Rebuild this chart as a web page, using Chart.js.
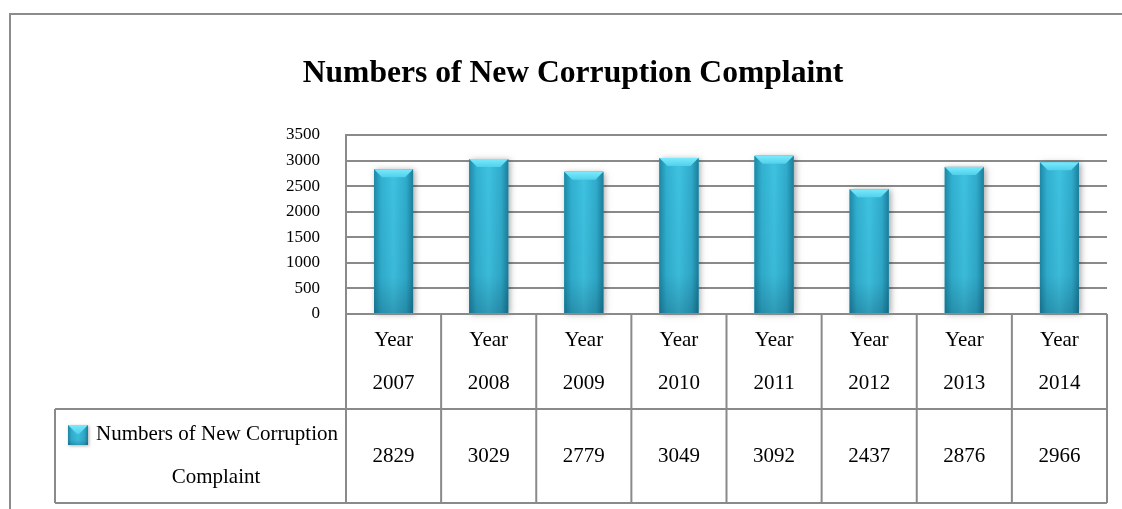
<!DOCTYPE html>
<html>
<head>
<meta charset="utf-8">
<script src="https://cdn.jsdelivr.net/npm/chart.js@4"></script>
<style>
  html, body { margin: 0; padding: 0; background: #fff; }
  #wrap { width: 1122px; height: 509px; }
</style>
</head>
<body>
<div id="wrap"><canvas id="chart" width="1122" height="509"></canvas></div>
<script>
// Data
const titleText = 'Numbers of New Corruption Complaint';
const categoryPrefix = 'Year';
const years = ['2007', '2008', '2009', '2010', '2011', '2012', '2013', '2014'];
const complaints = [2829, 3029, 2779, 3049, 3092, 2437, 2876, 2966];
const legendLines = ['Numbers of New Corruption', 'Complaint'];
const yMin = 0;
const yMax = 3500;
const yStep = 500;

const SERIF = '"Liberation Serif", "Times New Roman", serif';
const LINE = '#8a8a8a';

/**
 * Paint a bevelled, shaded bar (Excel "cylinder-ish" look).
 */
const paintBar = (ctx, left, top, right, bottom, bevel) => {
    const w = right - left;
    const body = ctx.createLinearGradient(left, 0, right, 0);
    body.addColorStop(0, '#1d88a6');
    body.addColorStop(0.18, '#31b0d0');
    body.addColorStop(0.5, '#3ec2e0');
    body.addColorStop(0.82, '#30abcb');
    body.addColorStop(1, '#1b7f9c');
    ctx.fillStyle = body;
    ctx.fillRect(left, top, w, bottom - top);

    // darker towards the bottom
    const shade = ctx.createLinearGradient(0, top, 0, bottom);
    shade.addColorStop(0, 'rgba(0,40,60,0)');
    shade.addColorStop(0.75, 'rgba(0,40,60,0.05)');
    shade.addColorStop(1, 'rgba(0,40,60,0.25)');
    ctx.fillStyle = shade;
    ctx.fillRect(left, top, w, bottom - top);

    // top bevel
    const cap = ctx.createLinearGradient(0, top, 0, top + bevel);
    cap.addColorStop(0, '#7aeafc');
    cap.addColorStop(1, '#4fd0ec');
    ctx.fillStyle = cap;
    ctx.beginPath();
    ctx.moveTo(left, top);
    ctx.lineTo(right, top);
    ctx.lineTo(right - bevel, top + bevel);
    ctx.lineTo(left + bevel, top + bevel);
    ctx.closePath();
    ctx.fill();
};

const barStylePlugin = {
    id: 'barStyle',
    afterDatasetsDraw(chart) {
        const { ctx } = chart;
        const meta = chart.getDatasetMeta(0);
        meta.data.forEach(bar => {
            const { x, y, base, width } = bar.getProps(['x', 'y', 'base', 'width'], true);
            const left = x - width / 2;
            const right = x + width / 2;
            ctx.save();
            ctx.shadowColor = 'rgba(0,0,0,0.35)';
            ctx.shadowBlur = 6;
            ctx.shadowOffsetX = 2;
            ctx.shadowOffsetY = 1;
            ctx.fillStyle = '#2fabcb';
            ctx.fillRect(left, y, width, base - y);
            ctx.restore();
            paintBar(ctx, left, y, right, base, 8);
        });
    }
};

const tablePlugin = {
    id: 'dataTable',
    beforeDraw(chart) {
        const { ctx, width, height } = chart;
        ctx.save();
        ctx.fillStyle = '#fff';
        ctx.fillRect(0, 0, width, height);
        // outer frame (top and left edges visible)
        ctx.strokeStyle = '#8c8c8c';
        ctx.lineWidth = 2;
        ctx.beginPath();
        ctx.moveTo(10, height);
        ctx.lineTo(10, 14);
        ctx.lineTo(width, 14);
        ctx.stroke();
        ctx.restore();
    },
    afterDraw(chart) {
        const { ctx, chartArea, scales } = chart;
        const x = scales.x;
        const top = chartArea.bottom;
        const midRow = 409;
        const bottom = 503;
        const legendLeft = 55;
        const step = x.getPixelForTick(1) - x.getPixelForTick(0);
        const tableLeft = x.getPixelForTick(0) - step / 2;
        const tableRight = x.getPixelForTick(years.length - 1) + step / 2;

        ctx.save();
        // title
        ctx.fillStyle = '#000';
        ctx.font = 'bold 31.6px ' + SERIF;
        ctx.textAlign = 'center';
        ctx.textBaseline = 'alphabetic';
        ctx.fillText(titleText, 573, 82);

        // table grid
        ctx.strokeStyle = LINE;
        ctx.lineWidth = 2;
        ctx.beginPath();
        ctx.moveTo(tableLeft, top); ctx.lineTo(tableRight, top);
        ctx.moveTo(legendLeft, midRow); ctx.lineTo(tableRight, midRow);
        ctx.moveTo(legendLeft, bottom); ctx.lineTo(tableRight, bottom);
        ctx.moveTo(legendLeft, midRow); ctx.lineTo(legendLeft, bottom);
        for (let i = 0; i <= years.length; i++) {
            const px = tableLeft + i * step;
            ctx.moveTo(px, top); ctx.lineTo(px, bottom);
        }
        ctx.stroke();

        // category labels and values
        ctx.font = '21px ' + SERIF;
        ctx.textBaseline = 'middle';
        years.forEach((yr, i) => {
            const cx = x.getPixelForTick(i);
            ctx.fillText(categoryPrefix, cx, 340);
            ctx.fillText(yr, cx, 383);
            ctx.fillText(String(complaints[i]), cx, 456);
        });

        // legend key + series name
        ctx.save();
        ctx.shadowColor = 'rgba(0,0,0,0.3)';
        ctx.shadowBlur = 3;
        ctx.shadowOffsetX = 1;
        ctx.shadowOffsetY = 1;
        ctx.fillStyle = '#2fabcb';
        ctx.fillRect(68, 425, 20, 20);
        ctx.restore();
        paintBar(ctx, 68, 425, 88, 445, 9);

        ctx.fillStyle = '#000';
        ctx.textAlign = 'left';
        ctx.fillText(legendLines[0], 96, 434);
        ctx.textAlign = 'center';
        ctx.fillText(legendLines[1], 216, 477);
        ctx.restore();
    }
};

new Chart(document.getElementById('chart'), {
    type: 'bar',
    data: {
        labels: years.map(yr => categoryPrefix + ' ' + yr),
        datasets: [{
            label: legendLines.join(' '),
            data: complaints,
            backgroundColor: '#2fabcb',
            borderWidth: 0,
            categoryPercentage: 1,
            barPercentage: 0.41,
        }],
    },
    options: {
        responsive: false,
        animation: false,
        devicePixelRatio: 1,
        layout: { padding: { top: 135, right: 15, bottom: 195, left: 0 } },
        plugins: {
            legend: { display: false },
            title: { display: false },
            tooltip: { enabled: false },
        },
        scales: {
            x: {
                ticks: { display: false },
                grid: { display: false, drawTicks: false },
                border: { display: false },
            },
            y: {
                min: yMin,
                max: yMax,
                afterFit: scale => { scale.width = 346; },
                ticks: {
                    stepSize: yStep,
                    padding: 26,
                    color: '#000',
                    font: { family: SERIF, size: 17 },
                    callback: value => String(value),
                },
                grid: { color: LINE, lineWidth: 2, drawTicks: false },
                border: { display: true, color: LINE, width: 2 },
            },
        },
    },
    plugins: [tablePlugin, barStylePlugin],
});
</script>
</body>
</html>
